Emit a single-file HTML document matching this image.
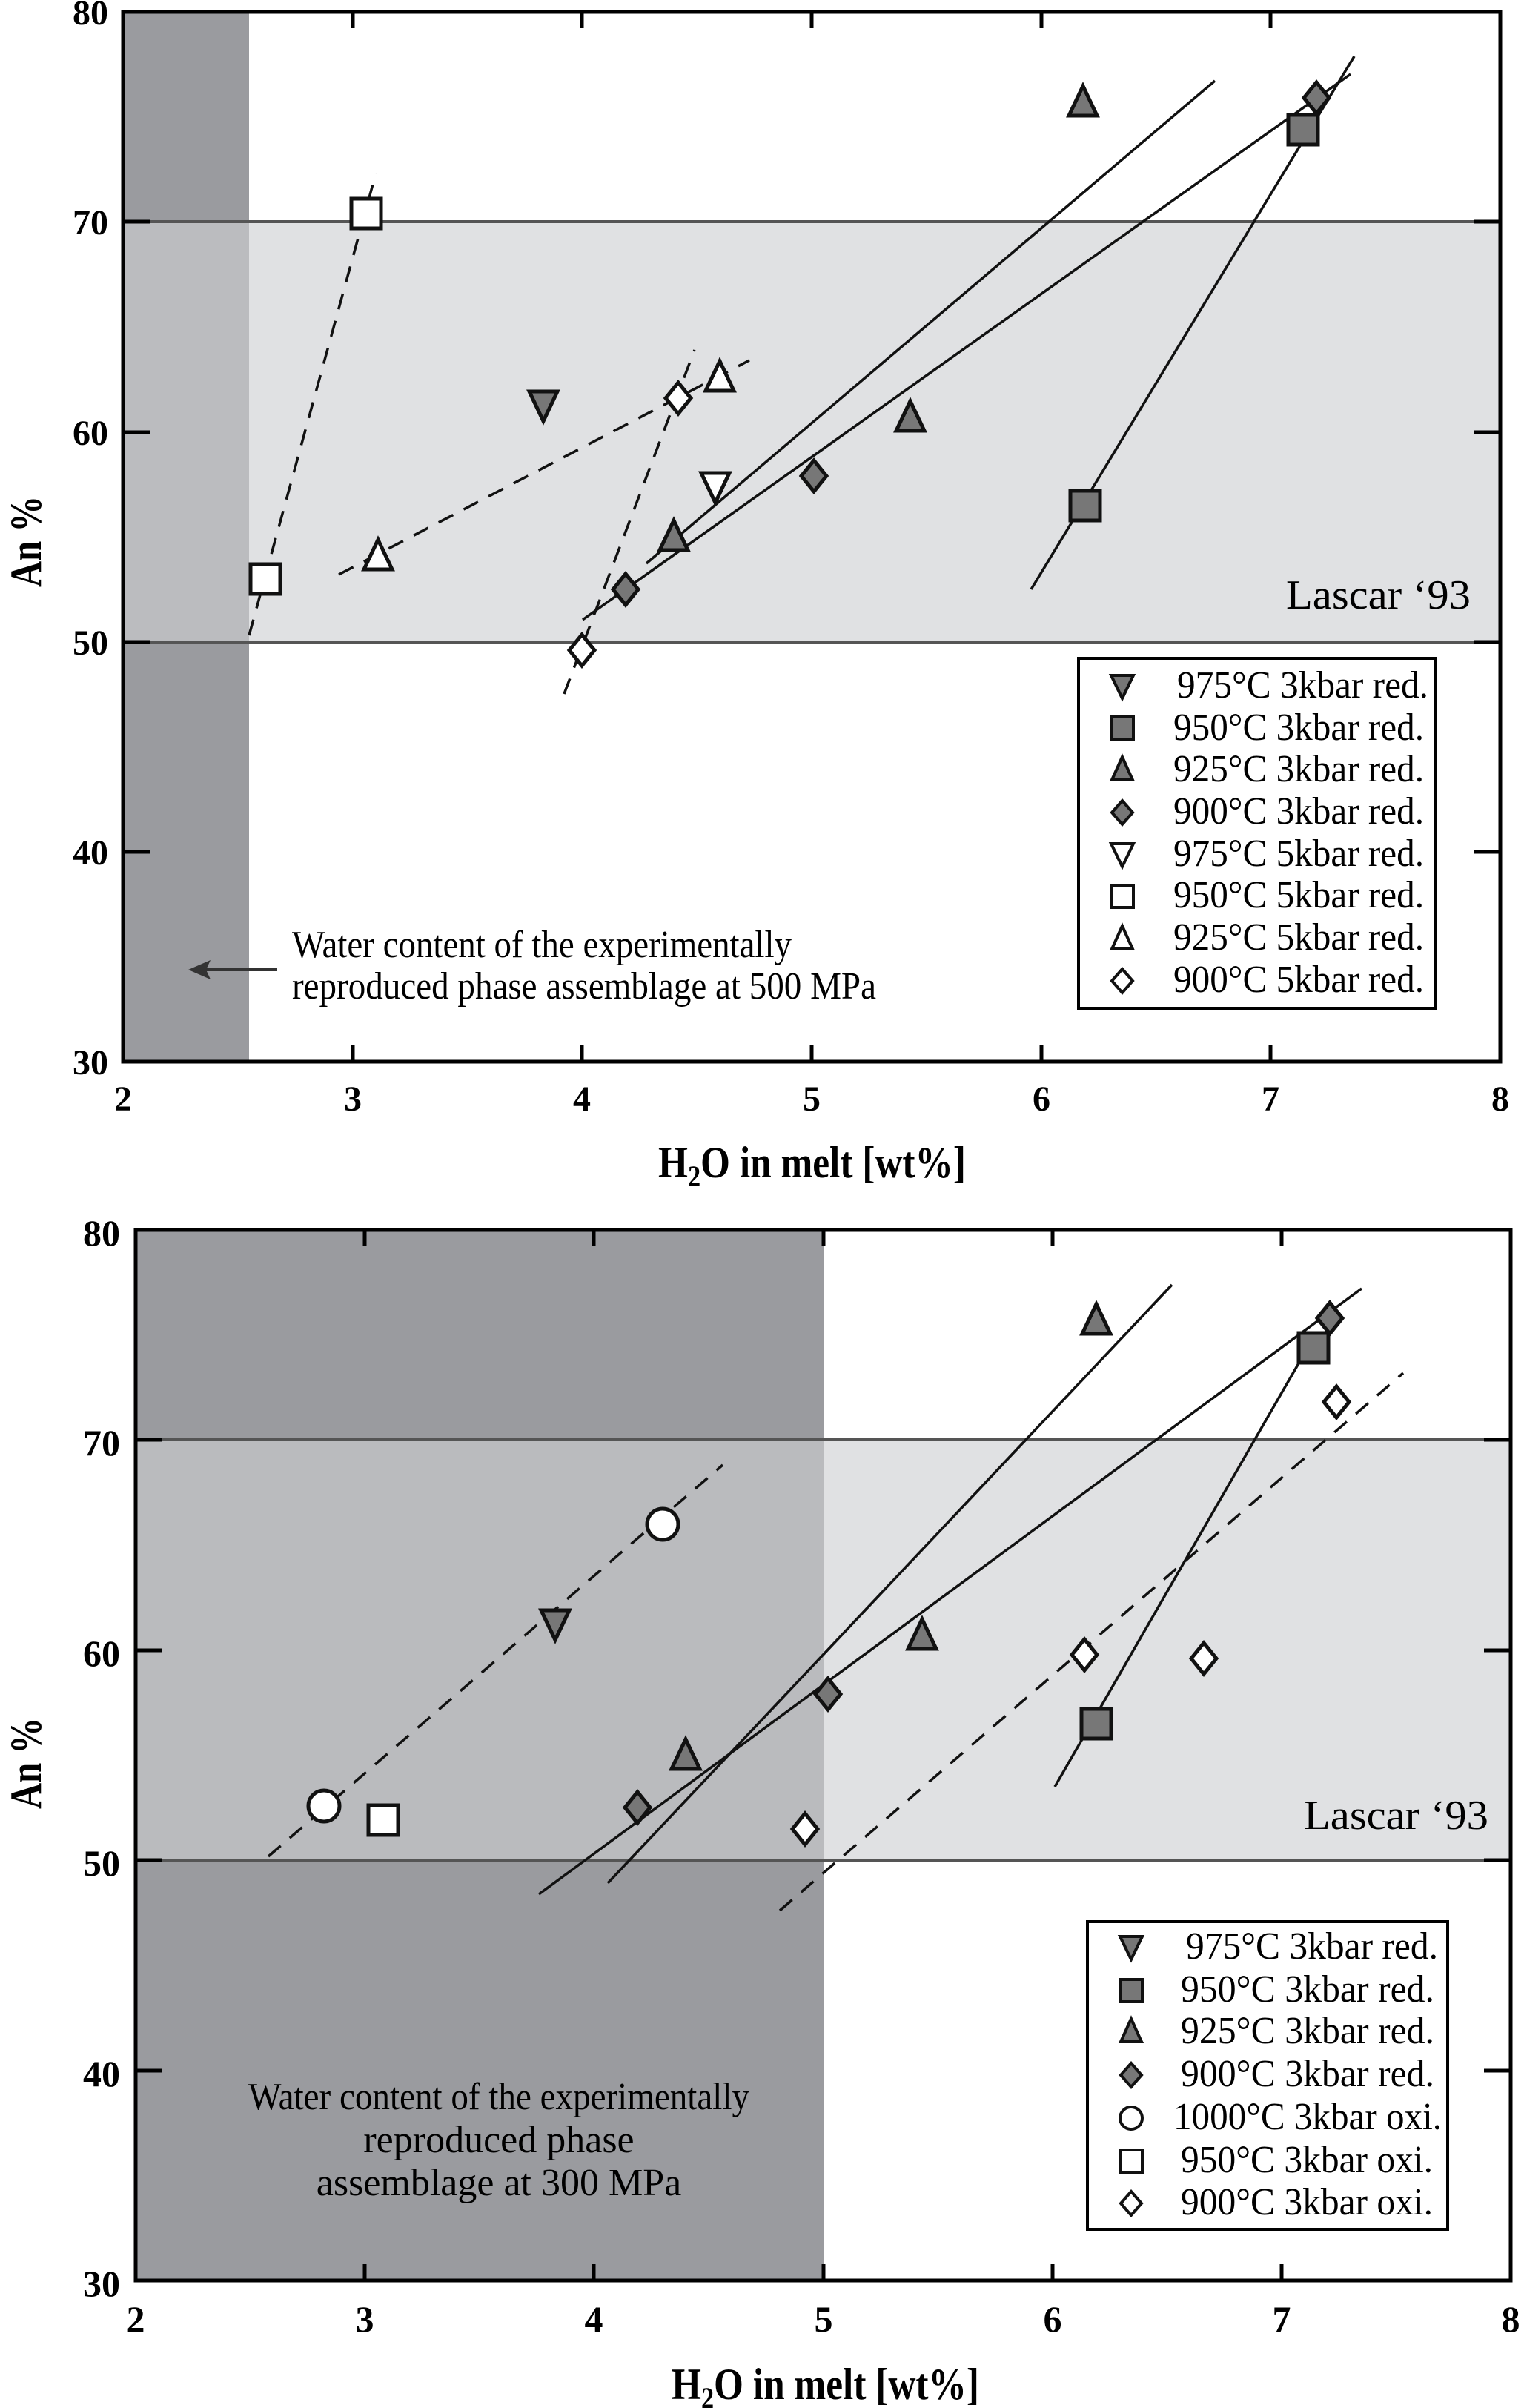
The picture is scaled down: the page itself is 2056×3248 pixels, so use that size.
<!DOCTYPE html>
<html><head><meta charset="utf-8"><style>
html,body{margin:0;padding:0;background:#fff}
svg{display:block}
text{font-family:"Liberation Serif",serif}
</style></head><body>
<svg width="2056" height="3248" viewBox="0 0 2056 3248" xmlns="http://www.w3.org/2000/svg">
<defs>
<polygon id="td" points="-19,-18 19,-18 0,22"/>
<polygon id="tu" points="0,-22 -19,18 19,18"/>
<rect id="sq" x="-20" y="-20" width="40" height="40"/>
<polygon id="dm" points="0,-21 17,0 0,21 -17,0"/>
<circle id="ci" r="21"/>
<polygon id="ltd" points="-15,-14 15,-14 0,17"/>
<polygon id="ltu" points="0,-17 -14,14 14,14"/>
<rect id="lsq" x="-15" y="-15" width="30" height="30"/>
<polygon id="ldm" points="0,-16 14,0 0,16 -14,0"/>
<circle id="lci" r="15"/>
</defs>

<!-- ===== TOP PLOT ===== -->
<rect x="166" y="16" width="1858" height="1416" fill="#fff"/>
<rect x="166" y="299" width="1858" height="567" fill="#e0e1e3"/>
<rect x="166" y="16" width="170" height="1416" fill="#9a9b9f"/>
<rect x="166" y="299" width="170" height="567" fill="#bbbcbf"/>
<line x1="166" y1="299" x2="2024" y2="299" stroke="#555" stroke-width="4"/>
<line x1="166" y1="866" x2="2024" y2="866" stroke="#555" stroke-width="4"/>

<g stroke="#111" stroke-width="3.5" fill="none">
<line x1="872" y1="760" x2="1639" y2="109"/>
<line x1="786" y1="836" x2="1822" y2="100"/>
<line x1="1391" y1="795" x2="1827" y2="76"/>
<g stroke-dasharray="22,16">
<line x1="336" y1="857" x2="507" y2="234"/>
<line x1="457" y1="775" x2="1011" y2="486"/>
<line x1="761" y1="936" x2="937" y2="472"/>
</g>
</g>

<g stroke="#111" stroke-width="5" stroke-linejoin="miter">
<g fill="#777">
<use href="#td" x="733" y="546"/>
<use href="#sq" x="1758" y="175"/><use href="#sq" x="1464" y="682"/>
<use href="#tu" x="1461" y="138"/><use href="#tu" x="1228" y="563"/><use href="#tu" x="909" y="724"/>
<use href="#dm" x="1776" y="132"/><use href="#dm" x="1098" y="642"/><use href="#dm" x="844" y="795"/>
</g>
<g fill="#fff">
<use href="#td" x="965" y="656"/>
<use href="#sq" x="494" y="288"/><use href="#sq" x="358" y="781"/>
<use href="#tu" x="971" y="509"/><use href="#tu" x="510" y="750"/>
<use href="#dm" x="915" y="537"/><use href="#dm" x="785" y="877"/>
</g>
</g>

<rect x="166" y="16" width="1858" height="1416" fill="none" stroke="#000" stroke-width="5"/>
<g stroke="#000" stroke-width="5">
<line x1="476" y1="16" x2="476" y2="38"/><line x1="785" y1="16" x2="785" y2="38"/><line x1="1095" y1="16" x2="1095" y2="38"/><line x1="1405" y1="16" x2="1405" y2="38"/><line x1="1714" y1="16" x2="1714" y2="38"/>
<line x1="476" y1="1432" x2="476" y2="1410"/><line x1="785" y1="1432" x2="785" y2="1410"/><line x1="1095" y1="1432" x2="1095" y2="1410"/><line x1="1405" y1="1432" x2="1405" y2="1410"/><line x1="1714" y1="1432" x2="1714" y2="1410"/>
<line x1="166" y1="299" x2="202" y2="299"/><line x1="166" y1="583" x2="202" y2="583"/><line x1="166" y1="866" x2="202" y2="866"/><line x1="166" y1="1149" x2="202" y2="1149"/>
<line x1="2024" y1="299" x2="1988" y2="299"/><line x1="2024" y1="583" x2="1988" y2="583"/><line x1="2024" y1="866" x2="1988" y2="866"/><line x1="2024" y1="1149" x2="1988" y2="1149"/>
</g>
<g font-size="48" font-weight="bold" text-anchor="end">
<text x="146" y="33">80</text><text x="146" y="316">70</text><text x="146" y="600">60</text><text x="146" y="883">50</text><text x="146" y="1166">40</text><text x="146" y="1449">30</text>
</g>
<g font-size="48" font-weight="bold" text-anchor="middle">
<text x="166" y="1498">2</text><text x="476" y="1498">3</text><text x="785" y="1498">4</text><text x="1095" y="1498">5</text><text x="1405" y="1498">6</text><text x="1714" y="1498">7</text><text x="2024" y="1498">8</text>
</g>
<text x="888" y="1588" font-size="60" font-weight="bold" textLength="415" lengthAdjust="spacingAndGlyphs">H<tspan font-size="40" dy="12">2</tspan><tspan dy="-12">O in melt [wt%]</tspan></text>
<text transform="translate(55,792) rotate(-90)" font-size="60" font-weight="bold" textLength="123" lengthAdjust="spacingAndGlyphs">An %</text>
<text x="1984" y="821" font-size="56" text-anchor="end" textLength="249" lengthAdjust="spacingAndGlyphs">Lascar ‘93</text>
<text x="394" y="1291" font-size="52" textLength="674" lengthAdjust="spacingAndGlyphs">Water content of the experimentally</text>
<text x="394" y="1347" font-size="52" textLength="788" lengthAdjust="spacingAndGlyphs">reproduced phase assemblage at 500 MPa</text>
<line x1="374" y1="1308" x2="275" y2="1308" stroke="#333" stroke-width="4"/>
<polygon points="254,1308 284,1295 278,1308 284,1321" fill="#333"/>

<rect x="1455" y="888" width="482" height="472" fill="#fff" stroke="#000" stroke-width="4"/>
<g stroke="#111" stroke-width="4">
<g fill="#777">
<use href="#ltd" x="1514" y="925"/><use href="#lsq" x="1514" y="982"/><use href="#ltu" x="1514" y="1038"/><use href="#ldm" x="1514" y="1096"/>
</g>
<g fill="#fff">
<use href="#ltd" x="1514" y="1152"/><use href="#lsq" x="1514" y="1209"/><use href="#ltu" x="1514" y="1266"/><use href="#ldm" x="1514" y="1323"/>
</g>
</g>
<g font-size="52">
<text x="1588" y="941" textLength="339" lengthAdjust="spacingAndGlyphs">975°C 3kbar red.</text>
<text x="1583" y="998" textLength="338" lengthAdjust="spacingAndGlyphs">950°C 3kbar red.</text>
<text x="1583" y="1054" textLength="338" lengthAdjust="spacingAndGlyphs">925°C 3kbar red.</text>
<text x="1583" y="1111" textLength="338" lengthAdjust="spacingAndGlyphs">900°C 3kbar red.</text>
<text x="1583" y="1168" textLength="338" lengthAdjust="spacingAndGlyphs">975°C 5kbar red.</text>
<text x="1583" y="1224" textLength="338" lengthAdjust="spacingAndGlyphs">950°C 5kbar red.</text>
<text x="1583" y="1281" textLength="338" lengthAdjust="spacingAndGlyphs">925°C 5kbar red.</text>
<text x="1583" y="1338" textLength="338" lengthAdjust="spacingAndGlyphs">900°C 5kbar red.</text>
</g>

<!-- ===== BOTTOM PLOT ===== -->
<rect x="183" y="1659" width="1855" height="1417" fill="#fff"/>
<rect x="183" y="1942" width="1855" height="567" fill="#e0e1e3"/>
<rect x="183" y="1659" width="928" height="1417" fill="#9a9b9f"/>
<rect x="183" y="1942" width="928" height="567" fill="#babbbe"/>
<line x1="183" y1="1942" x2="2038" y2="1942" stroke="#555" stroke-width="4"/>
<line x1="183" y1="2509" x2="2038" y2="2509" stroke="#555" stroke-width="4"/>

<g stroke="#111" stroke-width="3.5" fill="none">
<line x1="820" y1="2540" x2="1581" y2="1733"/>
<line x1="727" y1="2555" x2="1837" y2="1738"/>
<line x1="1423" y1="2410" x2="1760" y2="1825"/>
<g stroke-dasharray="22,16">
<line x1="362" y1="2504" x2="975" y2="1976"/>
<line x1="1052" y1="2577" x2="1893" y2="1852"/>
</g>
</g>

<g stroke="#111" stroke-width="5">
<g fill="#777">
<use href="#td" x="749" y="2190"/>
<use href="#sq" x="1772" y="1818"/><use href="#sq" x="1479" y="2325"/>
<use href="#tu" x="1479" y="1781"/><use href="#tu" x="1244" y="2206"/><use href="#tu" x="925" y="2368"/>
<use href="#dm" x="1794" y="1778"/><use href="#dm" x="1117" y="2285"/><use href="#dm" x="860" y="2438"/>
</g>
<g fill="#fff">
<use href="#ci" x="894" y="2056"/><use href="#ci" x="437" y="2436"/>
<use href="#sq" x="517" y="2455"/>
<use href="#dm" x="1803" y="1891"/><use href="#dm" x="1463" y="2232"/><use href="#dm" x="1624" y="2237"/><use href="#dm" x="1086" y="2467"/>
</g>
</g>

<rect x="183" y="1659" width="1855" height="1417" fill="none" stroke="#000" stroke-width="5"/>
<g stroke="#000" stroke-width="5">
<line x1="492" y1="1659" x2="492" y2="1681"/><line x1="801" y1="1659" x2="801" y2="1681"/><line x1="1111" y1="1659" x2="1111" y2="1681"/><line x1="1420" y1="1659" x2="1420" y2="1681"/><line x1="1729" y1="1659" x2="1729" y2="1681"/>
<line x1="492" y1="3076" x2="492" y2="3054"/><line x1="801" y1="3076" x2="801" y2="3054"/><line x1="1111" y1="3076" x2="1111" y2="3054"/><line x1="1420" y1="3076" x2="1420" y2="3054"/><line x1="1729" y1="3076" x2="1729" y2="3054"/>
<line x1="183" y1="1942" x2="219" y2="1942"/><line x1="183" y1="2226" x2="219" y2="2226"/><line x1="183" y1="2509" x2="219" y2="2509"/><line x1="183" y1="2793" x2="219" y2="2793"/>
<line x1="2038" y1="1942" x2="2002" y2="1942"/><line x1="2038" y1="2226" x2="2002" y2="2226"/><line x1="2038" y1="2509" x2="2002" y2="2509"/><line x1="2038" y1="2793" x2="2002" y2="2793"/>
</g>
<g font-size="50" font-weight="bold" text-anchor="end">
<text x="162" y="1680">80</text><text x="162" y="1963">70</text><text x="162" y="2247">60</text><text x="162" y="2530">50</text><text x="162" y="2814">40</text><text x="162" y="3097">30</text>
</g>
<g font-size="50" font-weight="bold" text-anchor="middle">
<text x="183" y="3145">2</text><text x="492" y="3145">3</text><text x="801" y="3145">4</text><text x="1111" y="3145">5</text><text x="1420" y="3145">6</text><text x="1729" y="3145">7</text><text x="2038" y="3145">8</text>
</g>
<text x="906" y="3236" font-size="60" font-weight="bold" textLength="415" lengthAdjust="spacingAndGlyphs">H<tspan font-size="40" dy="12">2</tspan><tspan dy="-12">O in melt [wt%]</tspan></text>
<text transform="translate(55,2440) rotate(-90)" font-size="60" font-weight="bold" textLength="123" lengthAdjust="spacingAndGlyphs">An %</text>
<text x="2008" y="2467" font-size="56" text-anchor="end" textLength="249" lengthAdjust="spacingAndGlyphs">Lascar ‘93</text>
<g font-size="52" text-anchor="middle">
<text x="673" y="2845" textLength="676" lengthAdjust="spacingAndGlyphs">Water content of the experimentally</text>
<text x="673" y="2903">reproduced phase</text>
<text x="673" y="2961">assemblage at 300 MPa</text>
</g>

<rect x="1467" y="2592" width="486" height="415" fill="#fff" stroke="#000" stroke-width="4"/>
<g stroke="#111" stroke-width="4">
<g fill="#777">
<use href="#ltd" x="1526" y="2626"/><use href="#lsq" x="1526" y="2685"/><use href="#ltu" x="1526" y="2740"/><use href="#ldm" x="1526" y="2799"/>
</g>
<g fill="#fff">
<use href="#lci" x="1526" y="2857"/><use href="#lsq" x="1526" y="2915"/><use href="#ldm" x="1526" y="2972"/>
</g>
</g>
<g font-size="52">
<text x="1600" y="2642" textLength="340" lengthAdjust="spacingAndGlyphs">975°C 3kbar red.</text>
<text x="1593" y="2700" textLength="342" lengthAdjust="spacingAndGlyphs">950°C 3kbar red.</text>
<text x="1593" y="2756" textLength="342" lengthAdjust="spacingAndGlyphs">925°C 3kbar red.</text>
<text x="1593" y="2814" textLength="342" lengthAdjust="spacingAndGlyphs">900°C 3kbar red.</text>
<text x="1583" y="2872" textLength="362" lengthAdjust="spacingAndGlyphs">1000°C 3kbar oxi.</text>
<text x="1593" y="2930" textLength="340" lengthAdjust="spacingAndGlyphs">950°C 3kbar oxi.</text>
<text x="1593" y="2987" textLength="340" lengthAdjust="spacingAndGlyphs">900°C 3kbar oxi.</text>
</g>
</svg>
</body></html>
